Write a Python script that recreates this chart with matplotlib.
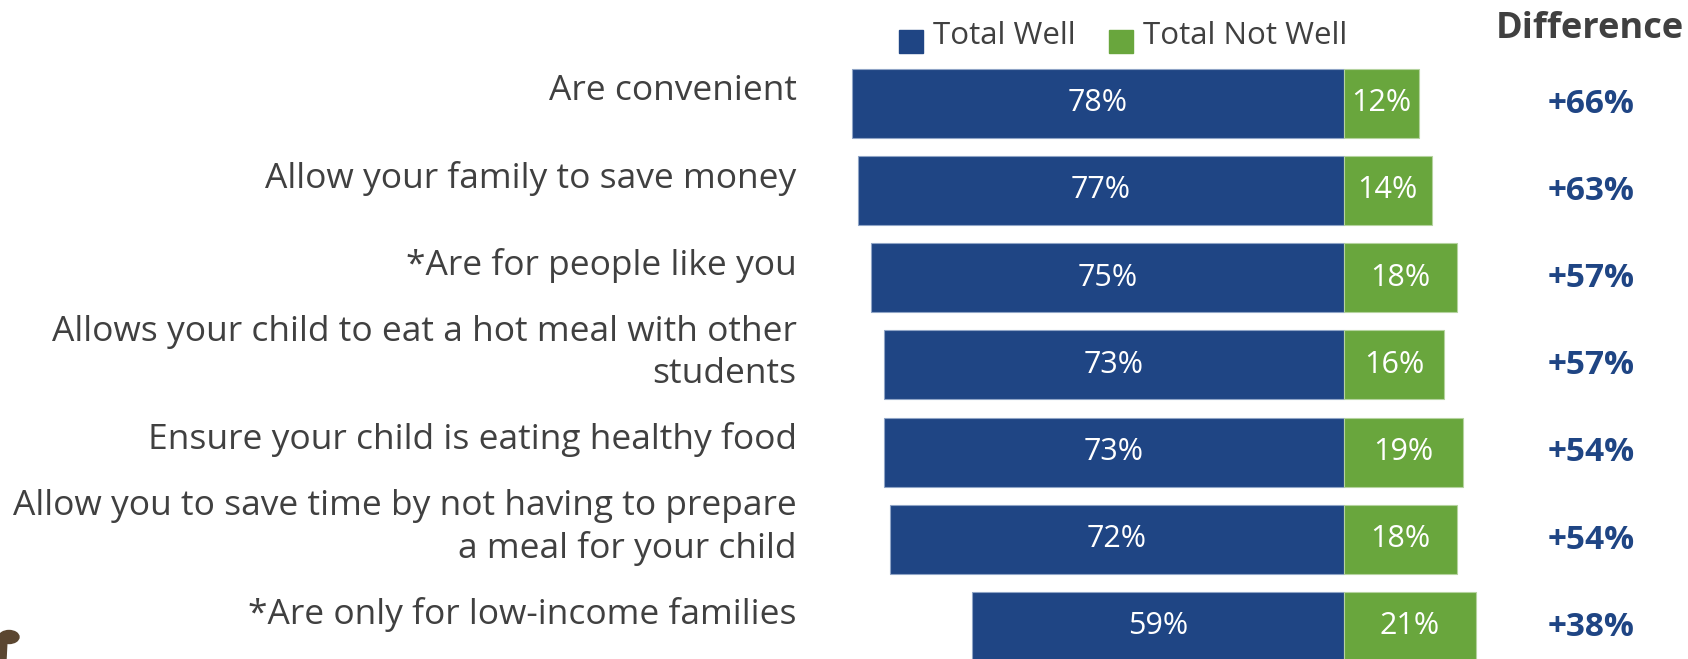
import matplotlib
matplotlib.use("Agg")
import matplotlib.pyplot as plt
from matplotlib.patches import Ellipse, Polygon

categories = [
    "Are convenient",
    "Allow your family to save money",
    "*Are for people like you",
    "Allows your child to eat a hot meal with other\nstudents",
    "Ensure your child is eating healthy food",
    "Allow you to save time by not having to prepare\na meal for your child",
    "*Are only for low-income families",
]
total_well = [78, 77, 75, 73, 73, 72, 59]
total_not_well = [12, 14, 18, 16, 19, 18, 21]
difference = ["+66%", "+63%", "+57%", "+57%", "+54%", "+54%", "+38%"]
series_names = ["Total Well", "Total Not Well"]

BLUE = "#1F4584"
GREEN = "#69A63D"
GRAY = "#404040"

plt.rcParams['font.family'] = ['Open Sans', 'DejaVu Sans']

W, H = 1688, 659
fig = plt.figure(figsize=(W / 100, H / 100), dpi=100)
ax = fig.add_axes([0, 0, 1, 1])
ax.set_axis_off()

# pixel mapping: x_pix = 1343.5 + 6.3 * v ; y_pix = 103.3 + 87.2 * i
cx, pxu = 1343.5, 6.3
cy, pyu = 103.3, 87.2
ax.set_xlim(-cx / pxu, (W - cx) / pxu)
ax.set_ylim((H - cy) / pyu, -cy / pyu)

ys = list(range(len(categories)))
bh = 0.79
ax.barh(ys, [-v for v in total_well], height=bh, color=BLUE, edgecolor="#8FA4C6", linewidth=0.8)
ax.barh(ys, total_not_well, height=bh, color=GREEN, edgecolor="#B5D39F", linewidth=0.8)

label_x = (796.6 - cx) / pxu
diff_x = (1591 - cx) / pxu
for i, (cat, w, nw, d) in enumerate(zip(categories, total_well, total_not_well, difference)):
    ax.text(label_x, i - 0.14, cat, ha="right", va="center", fontsize=25.5,
            color=GRAY, linespacing=1.3)
    ax.text(-w / 2, i, f"{w}%", ha="center", va="center", fontsize=22, color="white")
    ax.text(nw / 2, i, f"{nw}%", ha="center", va="center", fontsize=22, color="white")
    ax.text(diff_x, i + 0.01, d, ha="center", va="center", fontsize=24,
            fontweight="bold", color=BLUE)

# Header
fig.text(1590 / W, 1 - 29 / H, "Difference", ha="center", va="center",
         fontsize=26, fontweight="bold", color=GRAY)

# Legend (manual)
for x0, col, name in [(899, BLUE, series_names[0]), (1109, GREEN, series_names[1])]:
    fig.patches.append(plt.Rectangle((x0 / W, 1 - 53 / H), 24 / W, 23 / H,
                                     transform=fig.transFigure, color=col))
    fig.text((x0 + 34) / W, 1 - 36 / H, name, ha="left", va="center",
             fontsize=22.5, color=GRAY)

# small brown mascot fragment at bottom-left
brown = "#5B4630"
fig.patches.append(Ellipse((9 / W, 1 - 637 / H), 20 / W, 13 / H,
                           transform=fig.transFigure, color=brown))
fig.patches.append(Polygon([(0, 1 - 640 / H), (7 / W, 1 - 640 / H), (6 / W, 0), (0, 0)],
                           closed=True, transform=fig.transFigure, color=brown))

fig.savefig("out.png", dpi=100)
